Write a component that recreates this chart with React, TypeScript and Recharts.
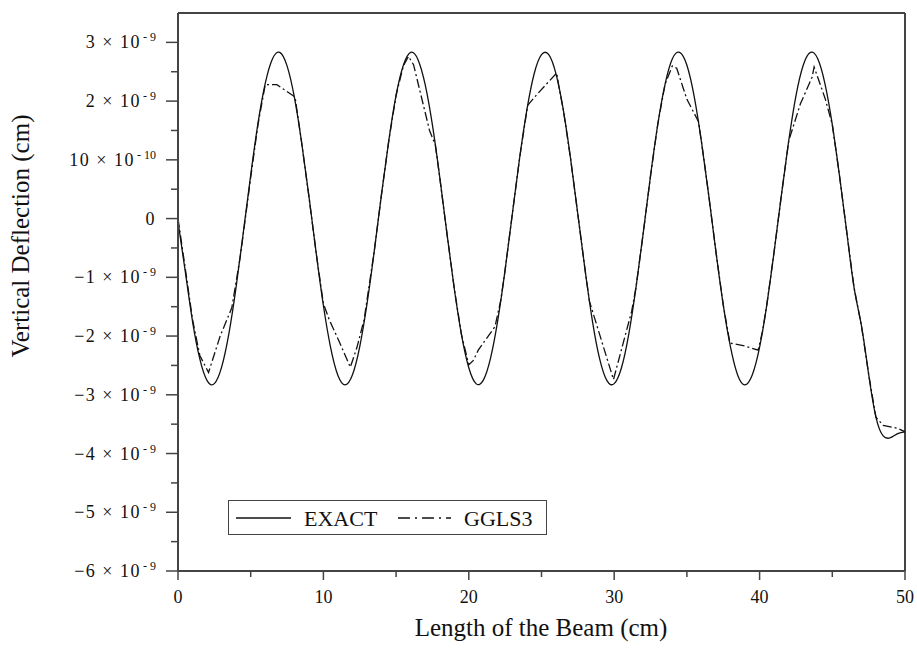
import React from "react";
import {
  LineChart,
  Line,
  XAxis,
  YAxis,
  ReferenceLine,
} from "recharts";

// beam position (cm) for the exact solution samples
const exactX = [
  0, 0.5, 1, 1.5, 2, 2.5, 3, 3.5, 4, 4.5, 5, 5.5, 6, 6.5, 7, 7.5, 8, 8.5, 9, 9.5,
  10, 10.5, 11, 11.5, 12, 12.5, 13, 13.5, 14, 14.5, 15, 15.5, 16, 16.5, 17, 17.5,
  18, 18.5, 19, 19.5, 20, 20.5, 21, 21.5, 22, 22.5, 23, 23.5, 24, 24.5, 25, 25.5,
  26, 26.5, 27, 27.5, 28, 28.5, 29, 29.5, 30, 30.5, 31, 31.5, 32, 32.5, 33, 33.5,
  34, 34.5, 35, 35.5, 36, 36.5, 37, 37.5, 38, 38.5, 39, 39.5, 40, 40.5, 41, 41.5,
  42, 42.5, 43, 43.5, 44, 44.5, 45, 45.5, 46, 46.5, 47, 47.5, 48, 48.5, 49, 49.5,
  50,
];

// deflection in units of 1e-9 cm
const exactNano = [
  -0.05, -0.9, -1.75, -2.39, -2.76, -2.81, -2.53, -1.96, -1.16, -0.22, 0.74, 1.62,
  2.3, 2.72, 2.83, 2.6, 2.07, 1.3, 0.39, -0.58, -1.48, -2.2, -2.67, -2.83, -2.66,
  -2.18, -1.45, -0.55, 0.42, 1.33, 2.1, 2.61, 2.83, 2.71, 2.28, 1.59, 0.71, -0.26,
  -1.19, -1.98, -2.54, -2.81, -2.75, -2.37, -1.72, -0.87, 0.09, 1.04, 1.86, 2.47,
  2.79, 2.79, 2.46, 1.85, 1.02, 0.07, -0.88, -1.74, -2.39, -2.76, -2.81, -2.54,
  -1.97, -1.17, -0.24, 0.73, 1.61, 2.29, 2.72, 2.83, 2.61, 2.08, 1.31, 0.4, -0.57,
  -1.47, -2.19, -2.67, -2.83, -2.66, -2.19, -1.46, -0.56, 0.4, 1.32, 2.09, 2.61,
  2.83, 2.72, 2.29, 1.6, 0.72, -0.24, -1.18, -1.82, -2.65, -3.38, -3.7, -3.73,
  -3.66, -3.63,
];

// GGLS3 nodes
const gglsX = [
  0, 0.5, 1, 1.5, 2.1, 2.9, 3.7, 4.3, 5, 5.5, 6, 6.8, 8.05, 8.5, 9, 9.5, 10, 10.4,
  11.1, 11.85, 12.3, 12.8, 13.5, 14, 14.5, 15, 15.5, 15.85, 16.2, 17.3, 17.7, 18,
  18.5, 19, 19.5, 20, 20.3, 20.65, 21.8, 22.2, 22.5, 23, 23.5, 24.05, 24.67, 26.05,
  26.2, 26.5, 27, 27.5, 28, 28.3, 29.95, 31.2, 31.5, 32, 32.5, 33, 33.5, 34, 34.3,
  35, 35.8, 36.2, 36.5, 37, 37.5, 37.96, 39, 39.9, 40.2, 40.5, 41, 41.5, 42, 42.8,
  43.6, 43.75, 44.5, 45, 45.5, 46, 46.5, 47, 47.5, 48, 48.5, 49.5, 50,
];

const gglsNano = [
  0, -0.85, -1.72, -2.33, -2.62, -2.0, -1.52, -0.62, 0.7, 1.6, 2.28, 2.28, 2.07,
  1.3, 0.38, -0.58, -1.45, -1.72, -2.1, -2.53, -2.2, -1.72, -0.55, 0.42, 1.33, 2.1,
  2.6, 2.76, 2.62, 1.5, 1.25, 0.7, -0.26, -1.19, -1.98, -2.49, -2.42, -2.24, -1.84,
  -1.39, -0.87, 0.09, 1.04, 1.93, 2.11, 2.48, 2.24, 1.85, 1.02, 0.07, -0.88, -1.41,
  -2.74, -1.58, -1.17, -0.24, 0.73, 1.61, 2.29, 2.6, 2.56, 2.03, 1.65, 0.96, 0.4,
  -0.57, -1.47, -2.12, -2.17, -2.24, -1.92, -1.46, -0.56, 0.4, 1.32, 1.95, 2.4,
  2.58, 2.05, 1.6, 0.72, -0.24, -1.18, -1.82, -2.65, -3.38, -3.52, -3.57, -3.63,
];

const xTicks = [0, 5, 10, 15, 20, 25, 30, 35, 40, 45, 50];
const yTicks = [
  -6, -5.5, -5, -4.5, -4, -3.5, -3, -2.5, -2, -1.5, -1, -0.5, 0, 0.5, 1, 1.5, 2,
  2.5, 3,
];

const exactData = exactX.map((x, i) => ({ x, y: exactNano[i] }));
const gglsData = gglsX.map((x, i) => ({ x, y: gglsNano[i] }));

const FONT = "'Liberation Serif', 'Times New Roman', serif";
const INK = "#111";
const AXIS = "#444";
const txt = { fontFamily: FONT };

function YTick(props: any) {
  const { x, y, payload } = props;
  const v = payload.value as number;
  const major = Number.isInteger(v);
  let main = "";
  let sup = "";
  if (v === 0) main = "0";
  else if (v === 1) {
    main = "10 \u00d7 10";
    sup = "- 10";
  } else {
    main = `${v < 0 ? "\u2212" : ""}${Math.abs(v)} \u00d7 10`;
    sup = "- 9";
  }
  return (
    <g>
      <line x1={x - (major ? 12 : 7)} x2={x} y1={y} y2={y} stroke={AXIS} strokeWidth={1.5} />
      {major && (
        <text
          x={x - 22}
          y={y + 6}
          textAnchor="end"
          style={txt}
          fontSize={18}
          letterSpacing={1.5}
          fill={INK}
        >
          {main}
          {sup && (
            <tspan fontSize={12} dy={-7} dx={2} letterSpacing={0}>
              {sup}
            </tspan>
          )}
        </text>
      )}
    </g>
  );
}

function XTick(props: any) {
  const { x, y, payload } = props;
  const v = payload.value as number;
  const major = v % 10 === 0;
  return (
    <g>
      <line x1={x} x2={x} y1={y} y2={y + (major ? 9 : 6)} stroke={AXIS} strokeWidth={1.5} />
      {major && (
        <text x={x} y={y + 32} textAnchor="middle" style={txt} fontSize={18} fill={INK}>
          {v}
        </text>
      )}
    </g>
  );
}

function LegendBox() {
  return (
    <div
      style={{
        position: "absolute",
        left: 228,
        top: 500,
        width: 319,
        height: 35,
        boxSizing: "border-box",
        border: `1.5px solid ${AXIS}`,
        background: "#fff",
      }}
    >
      <svg width={316} height={32} style={{ display: "block" }}>
        <line x1={7} x2={62} y1={17} y2={17} stroke={INK} strokeWidth={1.3} />
        <text x={75} y={25} style={txt} fontSize={22} fill={INK}>
          EXACT
        </text>
        <line
          x1={169}
          x2={222}
          y1={17}
          y2={17}
          stroke={INK}
          strokeWidth={1.3}
          strokeDasharray="12 5 2 5"
        />
        <text x={235} y={25} style={txt} fontSize={22} fill={INK}>
          GGLS3
        </text>
      </svg>
    </div>
  );
}

export default function App() {
  return (
    <div
      style={{
        position: "absolute",
        left: 0,
        top: 0,
        width: 917,
        height: 648,
        background: "#fff",
      }}
    >
      <LineChart
        width={917}
        height={648}
        margin={{ top: 13, right: 12, bottom: 37, left: 78 }}
      >
        <XAxis
          type="number"
          dataKey="x"
          domain={[0, 50]}
          ticks={xTicks}
          interval={0}
          tickSize={0}
          tickMargin={0}
          tickLine={false}
          tick={<XTick />}
          height={40}
          axisLine={{ stroke: AXIS, strokeWidth: 2 }}
          allowDataOverflow
        />
        <YAxis
          type="number"
          dataKey="y"
          domain={[-6, 3.5]}
          ticks={yTicks}
          interval={0}
          tickSize={0}
          tickMargin={0}
          tickLine={false}
          tick={<YTick />}
          width={100}
          axisLine={{ stroke: AXIS, strokeWidth: 2 }}
          allowDataOverflow
        />
        <ReferenceLine y={3.5} stroke={AXIS} strokeWidth={2} />
        <ReferenceLine x={50} stroke={AXIS} strokeWidth={2} />
        <Line
          data={exactData}
          dataKey="y"
          type="natural"
          stroke={INK}
          strokeWidth={1.3}
          dot={false}
          isAnimationActive={false}
        />
        <Line
          data={gglsData}
          dataKey="y"
          type="linear"
          stroke={INK}
          strokeWidth={1.3}
          strokeDasharray="9 3 2 3"
          dot={false}
          isAnimationActive={false}
        />
      </LineChart>
      <div
        style={{
          position: "absolute",
          left: 0,
          top: 0,
          width: 917,
          height: 648,
          pointerEvents: "none",
        }}
      >
        <svg width={917} height={648} style={{ display: "block" }}>
          <text
            x={0}
            y={0}
            transform="translate(29 236) rotate(-90)"
            textAnchor="middle"
            style={txt}
            fontSize={25}
            fill={INK}
          >
            Vertical Deflection (cm)
          </text>
          <text x={541} y={636} textAnchor="middle" style={txt} fontSize={25} fill={INK}>
            Length of the Beam (cm)
          </text>
        </svg>
      </div>
      <LegendBox />
    </div>
  );
}
